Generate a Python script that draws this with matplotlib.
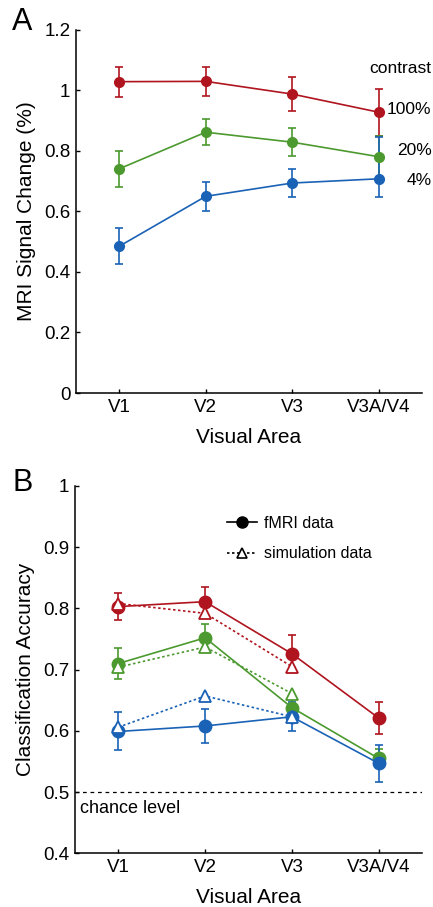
import matplotlib
matplotlib.use('Agg')
import matplotlib.pyplot as plt
from matplotlib.lines import Line2D
import numpy as np

plt.rcParams['font.family'] = ['Liberation Sans', 'DejaVu Sans']

areas = ['V1', 'V2', 'V3', 'V3A/V4']
contrasts = ['100%', '20%', '4%']
colors = ['#B0141E', '#4C9A2F', '#1A62B6']

# panel A: MRI signal change (%)
sig_100 = [1.029, 1.030, 0.988, 0.928]
sig_20 = [0.741, 0.862, 0.829, 0.781]
sig_4 = [0.485, 0.650, 0.694, 0.708]
sig_err_lo = [[0.050, 0.048, 0.056, 0.077],
              [0.059, 0.042, 0.047, 0.070],
              [0.060, 0.048, 0.047, 0.059]]
sig_err_hi = [[0.050, 0.048, 0.056, 0.077],
              [0.059, 0.042, 0.047, 0.070],
              [0.060, 0.048, 0.047, 0.139]]

# panel B: classification accuracy (fMRI)
acc_100 = [0.803, 0.811, 0.726, 0.621]
acc_20 = [0.710, 0.752, 0.638, 0.555]
acc_4 = [0.599, 0.608, 0.623, 0.547]
acc_err = [[0.022, 0.024, 0.030, 0.026],
           [0.026, 0.022, 0.015, 0.015],
           [0.031, 0.028, 0.024, 0.030]]

# panel B: simulation (V1-V3 only)
sim_100 = [0.808, 0.792, 0.705]
sim_20 = [0.704, 0.737, 0.661]
sim_4 = [0.606, 0.657, 0.623]

chance = 0.5

x = np.arange(1, len(areas) + 1)

fig = plt.figure(figsize=(4.33, 9.07), dpi=100)
axA = fig.add_axes([0.1755, 0.5667, 0.799, 0.4003])
axB = fig.add_axes([0.1732, 0.0592, 0.8014, 0.405])

lw = 1.2
for ax in (axA, axB):
    for s in ('top', 'right'):
        ax.spines[s].set_visible(False)
    for s in ('left', 'bottom'):
        ax.spines[s].set_linewidth(1.1)
    ax.tick_params(direction='in', length=3, width=1.0, labelsize=13.5, pad=4)
    ax.set_xlim(0.5, 4.5)
    ax.set_xticks(x)
    ax.set_xticklabels(areas)
    ax.set_xlabel('Visual Area', fontsize=15, labelpad=9)

# ---- panel A
for vals, lo, hi, c in zip([sig_100, sig_20, sig_4], sig_err_lo, sig_err_hi, colors):
    axA.errorbar(x, vals, yerr=[lo, hi], color=c, lw=lw, elinewidth=lw,
                 capsize=3, capthick=lw, marker='o', ms=7, mec=c, mfc=c)
axA.set_ylim(0, 1.2)
axA.set_yticks(np.arange(0, 1.21, 0.2))
axA.set_yticklabels(['0', '0.2', '0.4', '0.6', '0.8', '1', '1.2'])
axA.set_ylabel('MRI Signal Change (%)', fontsize=15, labelpad=6)

axA.text(4.61, 1.071, 'contrast', ha='right', va='center', fontsize=12.5, clip_on=False)
for lab, v in zip(contrasts, [0.936, 0.801, 0.702]):
    axA.text(4.61, v, lab, ha='right', va='center', fontsize=12.5, clip_on=False)

# ---- panel B
for vals, err, c in zip([acc_100, acc_20, acc_4], acc_err, colors):
    axB.errorbar(x, vals, yerr=err, color=c, lw=lw, elinewidth=lw,
                 capsize=3, capthick=lw, marker='o', ms=9, mec=c, mfc=c, zorder=2)
for vals, c in zip([sim_100, sim_20, sim_4], colors):
    axB.plot(x[:len(vals)], vals, color=c, lw=lw, ls=(0, (1.5, 1.5)),
             marker='^', ms=8, mfc='white', mec=c, mew=1.3, zorder=3)

axB.axhline(chance, color='black', lw=0.9, ls=(0, (3, 3)), zorder=1)
axB.text(0.56, 0.474, 'chance level', ha='left', va='center', fontsize=13)

axB.set_ylim(0.4, 1.0)
axB.set_yticks(np.arange(0.4, 1.01, 0.1))
axB.set_yticklabels(['0.4', '0.5', '0.6', '0.7', '0.8', '0.9', '1'])
axB.set_ylabel('Classification Accuracy', fontsize=15, labelpad=6)

handles = [Line2D([], [], color='black', lw=lw, marker='o', ms=8),
           Line2D([], [], color='black', lw=lw, ls=(0, (1.5, 1.5)),
                  marker='^', ms=7, mfc='white', mec='black', mew=1.2)]
axB.legend(handles, ['fMRI data', 'simulation data'], loc='upper left',
           bbox_to_anchor=(0.438, 0.919), frameon=False, fontsize=11.5,
           borderpad=0, borderaxespad=0, handlelength=1.9, handletextpad=0.4,
           labelspacing=0.97, numpoints=1)

fig.text(0.052, 0.976, 'A', fontsize=22, ha='center', va='center')
fig.text(0.053, 0.467, 'B', fontsize=22, ha='center', va='center')

fig.savefig('out.png', dpi=100)
